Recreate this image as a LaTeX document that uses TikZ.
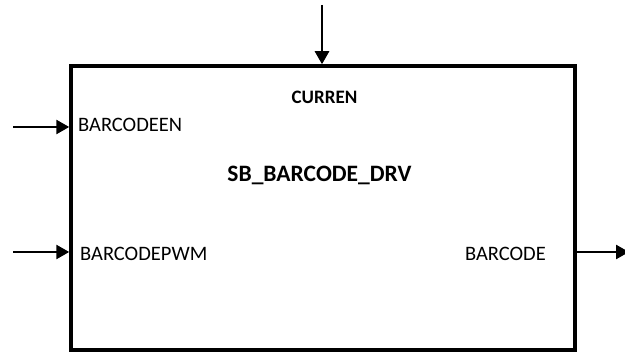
\documentclass[tikz,border=0pt]{standalone}
\usepackage{fontspec}
\setmainfont{Carlito}
\usetikzlibrary{arrows.meta}
\begin{document}
\begin{tikzpicture}[x=1pt,y=1pt,
  blockbox/.style={draw,line width=3.5pt,minimum width=504pt,minimum height=284pt,inner sep=0pt},
  sig/.style={line width=2.6pt,-{Triangle[length=13pt,width=14pt]}},
  port/.style={font=\fontsize{20.5}{22}\selectfont,inner sep=0pt},
  title/.style={font=\fontsize{19}{22}\selectfont\bfseries,inner sep=0pt},
  bigtitle/.style={font=\fontsize{23.5}{26}\selectfont\bfseries,inner sep=0pt}]
\useasboundingbox (0,0) rectangle (625,353);
\node[blockbox] (blk) at (323,145) {};
\coordinate (topin) at (322,348);
\coordinate (enin) at (13,226);
\coordinate (pwmin) at (13,101);
\coordinate (bcout) at (629,101);
\draw[sig] (topin) -- (topin |- blk.north);
\draw[sig] (enin) -- (enin -| blk.west);
\draw[sig] (pwmin) -- (pwmin -| blk.west);
\draw[sig] (bcout -| blk.east) -- (bcout);
\node[title,anchor=base] (curren) at (324.5,249.3) {CURREN};
\node[bigtitle,anchor=base] (name) at (319.5,171.3) {SB\_BARCODE\_DRV};
\node[port,anchor=base west] (en) at (78,221.3) {BARCODEEN};
\node[port,anchor=base west] (pwm) at (80,92.3) {BARCODEPWM};
\node[port,anchor=base east] (bc) at (546,92) {BARCODE};
\end{tikzpicture}
\end{document}
